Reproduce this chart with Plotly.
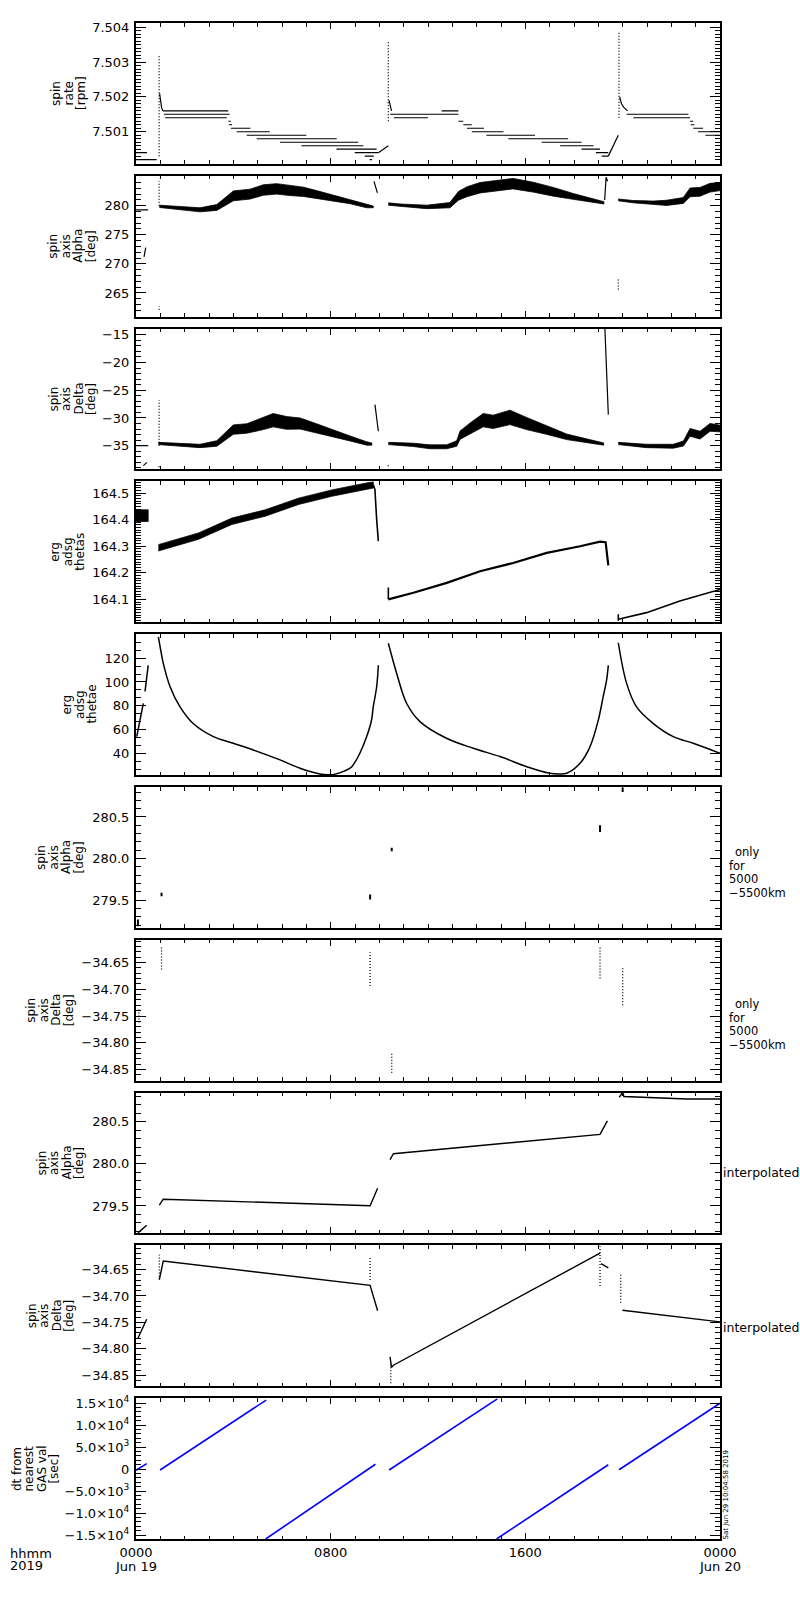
import plotly.graph_objects as go

FONT = "DejaVu Sans"

# ---------------- time axis (hours since 2019-06-19 00:00 UT) ----------------
X_TICKS = [0, 8, 16, 24]
X_TICKTEXT = ["0000", "0800", "1600", "0000"]
DATE_TEXT = ["Jun 19", "Jun 20"]
DATE_T = [0, 24]

# ---------------- panel 1: spin rate [rpm] ----------------
RATE_LVL_T0 = [0.00, 0.00, 1.10, 1.15, 1.20, 3.80, 3.82, 3.90, 4.14, 4.55, 4.96, 5.92, 6.80, 8.24, 8.99, 9.40, 9.60,
               10.45, 10.60, 12.56, 13.25, 13.45, 13.60, 13.80, 14.40, 15.30, 16.67, 17.43, 18.31, 18.90, 19.14,
               20.16, 20.44, 22.77, 22.80, 22.90, 23.10, 23.40]
RATE_LVL_T1 = [0.85, 0.45, 3.79, 3.85, 3.73, 3.90, 3.95, 4.70, 5.50, 7.00, 8.25, 9.13, 9.34, 9.89, 9.96, 9.77, 9.70,
               13.25, 12.00, 13.25, 13.45, 13.80, 14.30, 15.10, 16.40, 17.76, 18.31, 18.80, 19.07, 19.41, 19.41,
               22.70, 22.77, 22.90, 22.95, 23.30, 24.00, 24.00]
RATE_LVL_V = [7.5002, 7.5004, 7.5016, 7.5015, 7.5014, 7.5013, 7.5012, 7.5011, 7.5010, 7.5009, 7.5008, 7.5007, 7.5006,
              7.5005, 7.5004, 7.5003, 7.5002,
              7.5015, 7.5014, 7.5016, 7.5013, 7.5012, 7.5011, 7.5010, 7.5009, 7.5008, 7.5007, 7.5006, 7.5005, 7.5004,
              7.5003,
              7.5015, 7.5014, 7.5013, 7.5012, 7.5011, 7.5010, 7.5009]
RATE_SPIKE_T = [0.95, 10.37, 19.85]
RATE_SPIKE_LO = [7.5003, 7.5013, 7.5014]
RATE_SPIKE_HI = [7.5032, 7.5036, 7.5039]
RATE_CURVE_T = [[0.97, 1.00, 1.05, 1.10], [10.40, 10.45, 10.50], [19.88, 19.95, 20.05, 20.20],
                [9.96, 10.37], [19.41, 19.82]]
RATE_CURVE_V = [[7.5021, 7.5019, 7.5017, 7.5016], [7.5019, 7.5017, 7.5016], [7.5020, 7.5018, 7.5017, 7.5016],
                [7.5004, 7.5006], [7.5003, 7.5009]]

# ---------------- panel 2: spin axis Alpha [deg] (band: centre +- half width) ----------------
ALPHA_T = [[0.96, 1.81, 2.63, 3.32, 3.73, 4.00, 4.69, 5.23, 5.78, 6.33, 6.88, 7.42, 8.10, 8.80, 9.48, 9.75],
           [10.37, 10.85, 11.95, 12.90, 13.25, 13.60, 14.14, 14.96, 15.50, 16.32, 17.15, 17.97, 18.80, 19.23],
           [19.82, 20.44, 21.26, 21.81, 22.49, 22.77, 23.18, 23.59, 24.00]]
ALPHA_C = [[279.9, 279.6, 279.3, 279.7, 280.9, 281.7, 282.0, 282.7, 282.9, 282.6, 282.4, 281.9, 281.3, 280.7, 279.9, 279.8],
           [280.3, 280.1, 279.8, 280.1, 281.7, 282.4, 283.1, 283.5, 283.8, 283.2, 282.4, 281.6, 280.9, 280.5],
           [281.0, 280.7, 280.5, 280.5, 280.9, 282.3, 282.4, 283.1, 283.3]]
ALPHA_HW = [[0.2, 0.25, 0.35, 0.5, 0.75, 0.85, 0.85, 0.9, 0.9, 0.85, 0.8, 0.7, 0.5, 0.35, 0.25, 0.15],
            [0.2, 0.2, 0.3, 0.45, 0.75, 0.85, 0.9, 0.9, 0.9, 0.85, 0.75, 0.5, 0.35, 0.2],
            [0.15, 0.2, 0.3, 0.45, 0.5, 0.75, 0.75, 0.75, 0.7]]
ALPHA_LINE_T = [[0.0, 0.5], [0.33, 0.40], [9.78, 9.92], [19.26, 19.32, 19.38]]
ALPHA_LINE_V = [[279.3, 279.3], [271.2, 272.8], [284.2, 282.2], [281.0, 284.9, 284.2]]
ALPHA_DOT_T = [0.95, 0.95, 19.82]
ALPHA_DOT_LO = [280.0, 262.1, 265.6]
ALPHA_DOT_HI = [284.2, 262.7, 267.3]

# ---------------- panel 3: spin axis Delta [deg] ----------------
DELTA_T = [[0.92, 1.94, 2.63, 3.32, 3.73, 4.00, 4.55, 5.23, 5.64, 6.19, 6.74, 7.42, 8.10, 8.80, 9.48, 9.69],
           [10.37, 11.40, 12.08, 12.77, 13.18, 13.32, 13.73, 14.27, 14.68, 15.37, 16.05, 16.87, 17.70, 18.50, 19.22],
           [19.82, 20.98, 22.08, 22.50, 22.77, 23.18, 23.59, 24.00]]
DELTA_C = [[-34.6, -34.85, -35.05, -34.6, -33.1, -32.1, -31.9, -31.0, -30.4, -30.9, -31.0, -31.9, -32.8, -33.7, -34.6, -34.7],
           [-34.6, -34.85, -35.2, -35.2, -34.6, -33.1, -31.9, -30.4, -30.7, -29.9, -31.0, -32.2, -33.4, -34.1, -34.7],
           [-34.6, -35.05, -35.1, -34.6, -32.6, -33.1, -31.7, -31.9]]
DELTA_HW = [[0.2, 0.25, 0.3, 0.5, 0.75, 0.85, 0.85, 1.1, 1.2, 1.15, 1.0, 0.85, 0.6, 0.45, 0.3, 0.2],
            [0.2, 0.3, 0.35, 0.35, 0.5, 0.75, 1.0, 1.2, 1.2, 1.3, 1.1, 0.75, 0.5, 0.35, 0.2],
            [0.2, 0.3, 0.35, 0.45, 0.7, 0.7, 0.7, 0.6]]
DELTA_LINE_T = [[0.0, 0.5], [0.30, 0.45], [9.82, 9.96], [19.27, 19.41]]
DELTA_LINE_V = [[-35.0, -35.0], [-38.6, -38.0], [-27.6, -32.4], [-13.9, -29.4]]
DELTA_DOT_T = [0.95, 0.95, 10.37]
DELTA_DOT_LO = [-35.0, -38.9, -38.7]
DELTA_DOT_HI = [-26.8, -38.5, -38.3]

# ---------------- panel 4: erg adsg thetas ----------------
THETAS_BAND_T = [[0.0, 0.5], [0.92, 2.57, 3.94, 5.31, 6.68, 8.05, 9.42, 9.75]]
THETAS_BAND_C = [[164.415, 164.415], [164.294, 164.338, 164.394, 164.425, 164.469, 164.500, 164.525, 164.531]]
THETAS_BAND_HW = [[0.022, 0.022], [0.012, 0.012, 0.012, 0.012, 0.012, 0.012, 0.012, 0.012]]
THETAS_LINE_T = [[9.75, 9.82, 9.89, 9.96],
                 [10.37, 11.40, 12.77, 14.14, 15.50, 16.88, 18.25, 19.07, 19.30, 19.41],
                 [19.82, 20.98, 22.35, 24.00],
                 [10.37, 10.37], [19.82, 19.82]]
THETAS_LINE_V = [[164.531, 164.513, 164.400, 164.319],
                 [164.100, 164.125, 164.162, 164.206, 164.237, 164.275, 164.300, 164.317, 164.315, 164.228],
                 [164.025, 164.050, 164.094, 164.137],
                 [164.100, 164.145], [164.019, 164.044]]

# ---------------- panel 5: erg adsg thetae ----------------
THETAE_T = [[0.03, 0.30], [0.37, 0.50],
            [0.92, 0.99, 1.12, 1.40, 1.81, 2.35, 3.18, 4.00, 4.82, 5.92, 6.74, 7.56, 7.90, 8.10, 8.80, 9.00, 9.20, 9.48,
             9.68, 9.75, 9.89, 9.96],
            [10.37, 10.71, 11.12, 11.67, 12.76, 13.86, 14.96, 16.06, 17.01, 17.35, 17.70, 18.25, 18.66, 19.00, 19.20,
             19.34, 19.41],
            [19.82, 20.16, 20.57, 21.26, 22.08, 22.90, 24.00]]
THETAE_V = [[54, 82], [92, 114],
            [138, 129.8, 115.8, 96, 79, 65, 54, 48.4, 42.8, 34.4, 27.4, 22.6, 21.9, 22.0, 27.4, 32.5, 40, 54,
             68, 79, 96, 114],
            [132.6, 107.4, 82.1, 66.6, 52.6, 44.2, 37.2, 28.7, 23.2, 22.6, 23.2, 31.6, 45.6, 68, 87.7, 101.7, 114],
            [133, 99, 79, 65, 54, 48.4, 40]]

# ---------------- panel 6: spin axis Alpha only for 5000-5500 km ----------------
A55_T = [0.08, 1.05, 9.62, 10.51, 19.07, 20.00]
A55_LO = [279.19, 279.55, 279.51, 280.09, 280.32, 280.80]
A55_HI = [279.27, 279.59, 279.57, 280.13, 280.40, 280.85]

# ---------------- panel 7: spin axis Delta only for 5000-5500 km ----------------
D55_T = [0.12, 1.05, 9.62, 10.51, 19.07, 20.00]
D55_LO = [-34.762, -34.663, -34.694, -34.856, -34.680, -34.730]
D55_HI = [-34.738, -34.622, -34.631, -34.819, -34.620, -34.660]

# ---------------- panel 8: spin axis Alpha interpolated ----------------
AINT_T = [[0.08, 0.44], [0.96, 1.12, 9.62, 9.93], [10.44, 10.58, 19.07, 19.37], [19.86, 20.00, 20.05, 22.63, 24.00]]
AINT_V = [[279.18, 279.27], [279.51, 279.58, 279.503, 279.71], [280.05, 280.12, 280.35, 280.51],
          [280.79, 280.85, 280.80, 280.77, 280.77]]

# ---------------- panel 9: spin axis Delta interpolated ----------------
DINT_T = [[0.08, 0.44], [0.96, 1.12, 9.62, 9.93], [10.44, 10.50, 10.58, 19.07], [19.11, 19.41], [19.99, 24.00]]
DINT_V = [[-34.780, -34.744], [-34.669, -34.634, -34.680, -34.728], [-34.815, -34.835, -34.831, -34.619],
          [-34.639, -34.647], [-34.727, -34.749]]
DINT_DOT_T = [0.96, 9.62, 10.47, 19.07, 19.92]
DINT_DOT_LO = [-34.669, -34.670, -34.865, -34.681, -34.713]
DINT_DOT_HI = [-34.622, -34.625, -34.830, -34.606, -34.656]

# ---------------- panel 10: dt from nearest GAS val [sec] ----------------
DT_T0 = [0.00, 0.99, 5.33, 10.40, 14.82, 19.85]
DT_T1 = [0.44, 5.35, 9.84, 14.85, 19.41, 24.00]
DT_V0 = [-250, -200, -15900, -200, -15900, -150]
DT_V1 = [1250, 15700, 1100, 16000, 1000, 15000]

# ---------------- axes ----------------
Y_RANGES = [[7.50008, 7.50412], [260.93, 285.15], [-39.27, -13.9], [164.014, 164.544], [21.7, 140.2],
            [279.17, 280.86], [-34.8706, -34.6076], [279.174, 280.846], [-34.8706, -34.6044], [-15911, 16139]]
Y_TICKS = [[7.501, 7.502, 7.503, 7.504], [265, 270, 275, 280], [-35, -30, -25, -20, -15],
           [164.1, 164.2, 164.3, 164.4, 164.5], [40, 60, 80, 100, 120], [279.5, 280.0, 280.5],
           [-34.85, -34.80, -34.75, -34.70, -34.65], [279.5, 280.0, 280.5],
           [-34.85, -34.80, -34.75, -34.70, -34.65], [-15000, -10000, -5000, 0, 5000, 10000, 15000]]
Y_TICKFMT = [".3f", "d", "d", ".1f", "d", ".1f", ".2f", ".1f", ".2f", None]
DT_TICKTEXT = ["\u22121.5\u00d710<sup>4</sup>", "\u22121.0\u00d710<sup>4</sup>", "\u22125.0\u00d710<sup>3</sup>", "0",
               "5.0\u00d710<sup>3</sup>", "1.0\u00d710<sup>4</sup>", "1.5\u00d710<sup>4</sup>"]
Y_MINOR = [(7.5, 0.0001), (260, 1), (-40, 1), (164.0, 0.01), (40, 20 / 3), (279.0, 0.1), (-34.9, 0.01),
           (279.0, 0.1), (-34.9, 0.01), (0, 1000)]

Y_LABELS = [["spin", "rate", "[rpm]"], ["spin", "axis", "Alpha", "[deg]"], ["spin", "axis", "Delta", "[deg]"],
            ["erg", "adsg", "thetas"], ["erg", "adsg", "thetae"], ["spin", "axis", "Alpha", "[deg]"],
            ["spin", "axis", "Delta", "[deg]"], ["spin", "axis", "Alpha", "[deg]"],
            ["spin", "axis", "Delta", "[deg]"], ["dt from", "nearest", "GAS val", "[sec]"]]
NOTE_5500 = ["only", "for", "5000", "\u22125500km"]
NOTE_INTERP = "interpolated"
STAMP = "Sat Jun 29 10:04:58 2019"

# ---------------- layout geometry (pixels) ----------------
W, H = 800, 1600
PL, PR, PT, PB = 136, 720, 23, 1539
STEP, PH = 152.8, 140.8
YLAB_LAST_X = [81.5, 91, 91, 80, 92, 79, 69, 79, 69, 54]
COL_SP = 12.5


def px2x(px):
    return (px - PL) / (PR - PL)


def px2y(py):
    return (PB - py) / (PB - PT)


fig = go.Figure()


def axn(n):
    return ("x" if n == 1 else "x%d" % n), ("y" if n == 1 else "y%d" % n)


def add_line(n, x, y, width=1.2, dash=None, color="black", shape="linear"):
    xa, ya = axn(n)
    fig.add_trace(go.Scatter(x=x, y=y, mode="lines", xaxis=xa, yaxis=ya, showlegend=False, hoverinfo="skip",
                             line=dict(color=color, width=width, dash=dash, shape=shape)))


def add_band(n, t, c, hw):
    xa, ya = axn(n)
    hi = [a + b for a, b in zip(c, hw)]
    lo = [a - b for a, b in zip(c, hw)]
    fig.add_trace(go.Scatter(x=list(t) + list(t)[::-1], y=hi + lo[::-1], mode="lines", fill="toself",
                             fillcolor="black", line=dict(color="black", width=0.8), xaxis=xa, yaxis=ya,
                             showlegend=False, hoverinfo="skip"))


def verts(ts, lo, hi):
    x, y = [], []
    for t, a, b in zip(ts, lo, hi):
        x += [t, t, None]
        y += [a, b, None]
    return x, y


def segs(t0, t1, v0, v1):
    x, y = [], []
    for a, b, c, d in zip(t0, t1, v0, v1):
        x += [a, b, None]
        y += [c, d, None]
    return x, y


DOT = "1px,2px"

# panel 1
x, y = segs(RATE_LVL_T0, RATE_LVL_T1, RATE_LVL_V, RATE_LVL_V)
add_line(1, x, y, width=1.1)
x, y = verts(RATE_SPIKE_T, RATE_SPIKE_LO, RATE_SPIKE_HI)
add_line(1, x, y, width=1.3, dash=DOT)
for t, v in zip(RATE_CURVE_T, RATE_CURVE_V):
    add_line(1, t, v, width=1.2)

# panel 2
for t, c, h in zip(ALPHA_T, ALPHA_C, ALPHA_HW):
    add_band(2, t, c, h)
for t, v in zip(ALPHA_LINE_T, ALPHA_LINE_V):
    add_line(2, t, v, width=1.2)
x, y = verts(ALPHA_DOT_T, ALPHA_DOT_LO, ALPHA_DOT_HI)
add_line(2, x, y, width=1.3, dash=DOT)

# panel 3
for t, c, h in zip(DELTA_T, DELTA_C, DELTA_HW):
    add_band(3, t, c, h)
for t, v in zip(DELTA_LINE_T, DELTA_LINE_V):
    add_line(3, t, v, width=1.2)
x, y = verts(DELTA_DOT_T, DELTA_DOT_LO, DELTA_DOT_HI)
add_line(3, x, y, width=1.3, dash=DOT)

# panel 4
for t, c, h in zip(THETAS_BAND_T, THETAS_BAND_C, THETAS_BAND_HW):
    add_band(4, t, c, h)
for i, (t, v) in enumerate(zip(THETAS_LINE_T, THETAS_LINE_V)):
    add_line(4, t, v, width=2.2 if i == 1 else 1.6)

# panel 5
for t, v in zip(THETAE_T, THETAE_V):
    add_line(5, t, v, width=1.5, shape="spline")

# panel 6
x, y = verts(A55_T, A55_LO, A55_HI)
add_line(6, x, y, width=2.0)

# panel 7
x, y = verts(D55_T, D55_LO, D55_HI)
add_line(7, x, y, width=1.3, dash=DOT)

# panel 8
for t, v in zip(AINT_T, AINT_V):
    add_line(8, t, v, width=1.4)

# panel 9
for t, v in zip(DINT_T, DINT_V):
    add_line(9, t, v, width=1.4)
x, y = verts(DINT_DOT_T, DINT_DOT_LO, DINT_DOT_HI)
add_line(9, x, y, width=1.3, dash=DOT)

# panel 10
x, y = segs(DT_T0, DT_T1, DT_V0, DT_V1)
add_line(10, x, y, width=1.6, color="#0000ff")

# ---------------- axes layout ----------------
layout = dict(width=W, height=H, margin=dict(l=PL, r=W - PR, t=PT, b=H - PB, pad=0),
              paper_bgcolor="white", plot_bgcolor="white",
              font=dict(family=FONT, size=13, color="black"))
annotations = []
for i in range(10):
    n = i + 1
    top = PT + i * STEP
    bot = top + PH
    xk = "xaxis" if n == 1 else "xaxis%d" % n
    yk = "yaxis" if n == 1 else "yaxis%d" % n
    layout[xk] = dict(domain=[0, 1], range=[0, 24], anchor=("y" if n == 1 else "y%d" % n),
                      tickmode="array", tickvals=X_TICKS, ticktext=X_TICKTEXT, showticklabels=(n == 10),
                      ticks="inside", ticklen=6, tickwidth=1.3, tickcolor="black",
                      minor=dict(tickmode="linear", tick0=0, dtick=1, ticks="inside", ticklen=3.5, tickwidth=1.2,
                                 tickcolor="black", showgrid=False),
                      showline=True, linewidth=2, linecolor="black", mirror="ticks", showgrid=False,
                      zeroline=False, tickfont=dict(family=FONT, size=13, color="black"))
    ya = dict(domain=[px2y(bot), px2y(top)], range=Y_RANGES[i], anchor=("x" if n == 1 else "x%d" % n),
              tickmode="array", tickvals=Y_TICKS[i],
              ticks="inside", ticklen=10, tickwidth=1.3, tickcolor="black",
              minor=dict(tickmode="linear", tick0=Y_MINOR[i][0], dtick=Y_MINOR[i][1], ticks="inside", ticklen=5,
                         tickwidth=1.2, tickcolor="black", showgrid=False),
              showline=True, linewidth=2, linecolor="black", mirror="ticks", showgrid=False, zeroline=False,
              tickfont=dict(family=FONT, size=13, color="black"), ticklabelstandoff=2)
    if Y_TICKFMT[i] is None:
        ya["ticktext"] = DT_TICKTEXT
    else:
        ya["tickformat"] = Y_TICKFMT[i]
    layout[yk] = ya

    # rotated multi-column y label
    lines = Y_LABELS[i]
    k = len(lines)
    for j, s in enumerate(lines):
        cx = YLAB_LAST_X[i] - (k - 1 - j) * COL_SP
        annotations.append(dict(text=s, x=px2x(cx), y=px2y((top + bot) / 2), xref="paper", yref="paper",
                                textangle=-90, xanchor="center", yanchor="middle", showarrow=False,
                                font=dict(family=FONT, size=12, color="black")))

# right-hand notes
for ys in ([852, 865.5, 879, 892.5], [1004, 1017.5, 1031, 1044.5]):
    for j, s in enumerate(NOTE_5500):
        annotations.append(dict(text=s, x=px2x(733 if j == 0 else 727), y=px2y(ys[j]), xref="paper",
                                yref="paper", xanchor="left", yanchor="middle", showarrow=False,
                                font=dict(family=FONT, size=11.5, color="black")))
for py in (1172, 1327):
    annotations.append(dict(text=NOTE_INTERP, x=px2x(721), y=px2y(py), xref="paper", yref="paper",
                            xanchor="left", yanchor="middle", showarrow=False,
                            font=dict(family=FONT, size=12.5, color="black")))

# time stamp
annotations.append(dict(text=STAMP, x=px2x(725.5), y=px2y(1495), xref="paper", yref="paper", textangle=-90,
                        xanchor="center", yanchor="middle", showarrow=False,
                        font=dict(family=FONT, size=7, color="black")))

# bottom labels
annotations.append(dict(text="hhmm", x=px2x(8), y=px2y(1553), xref="paper", yref="paper", xanchor="left",
                        yanchor="middle", showarrow=False, font=dict(family=FONT, size=13, color="black")))
annotations.append(dict(text="2019", x=px2x(8), y=px2y(1565), xref="paper", yref="paper", xanchor="left",
                        yanchor="middle", showarrow=False, font=dict(family=FONT, size=13, color="black")))
for t, s in zip(DATE_T, DATE_TEXT):
    annotations.append(dict(text=s, x=t, y=px2y(1566), xref="x10", yref="paper", xanchor="center",
                            yanchor="middle", showarrow=False, font=dict(family=FONT, size=13, color="black")))

layout["annotations"] = annotations
fig.update_layout(**layout)
fig.write_html("out.html", config={"displayModeBar": False},
               post_script="document.body.style.margin='0';document.body.style.overflow='hidden';")
